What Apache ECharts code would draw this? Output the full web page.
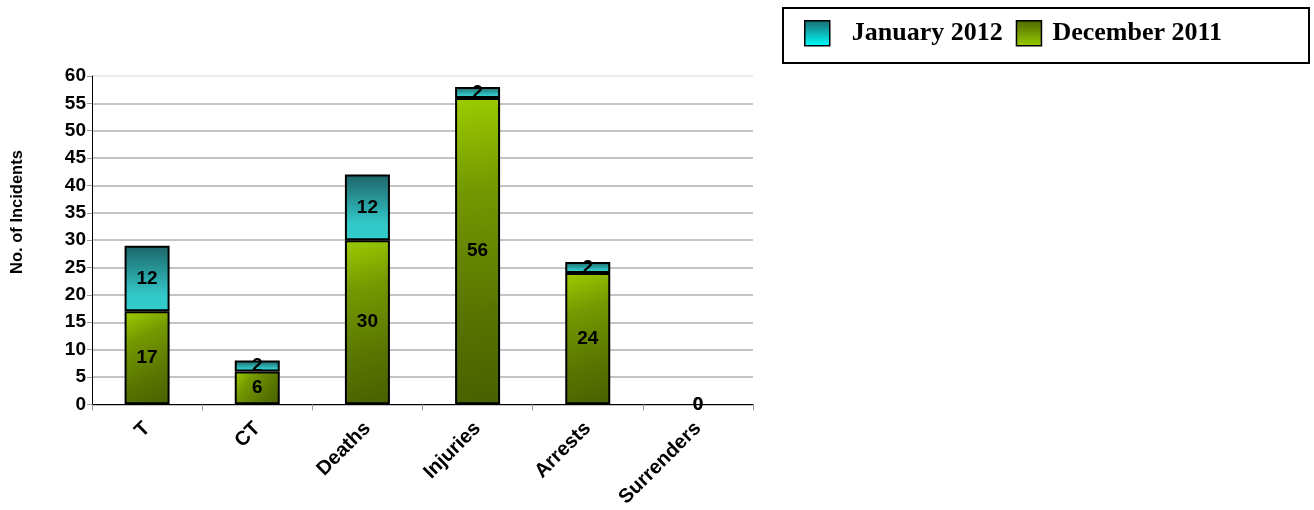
<!DOCTYPE html>
<html>
<head>
<meta charset="utf-8">
<script src="https://cdn.jsdelivr.net/npm/echarts@6/dist/echarts.min.js"></script>
<style>html,body{margin:0;padding:0;background:#fff;}#c{width:1314px;height:510px;}</style>
</head>
<body>
<div id="c"></div>
<script>
var categories = ['T', 'CT', 'Deaths', 'Injuries', 'Arrests', 'Surrenders'];
var december2011 = [17, 6, 30, 56, 24, 0];
var january2012 = [12, 2, 12, 2, 2, 0];
var yTicks = [0, 5, 10, 15, 20, 25, 30, 35, 40, 45, 50, 55, 60];
var yAxisTitle = 'No. of Incidents';

var G = echarts.graphic.LinearGradient;
var decFill = new G(0, 0, 1, 1, [{offset: 0, color: '#9ccc00'}, {offset: 0.3, color: '#749800'}, {offset: 0.7, color: '#587400'}, {offset: 1, color: '#486000'}]);
var janFill = new G(0, 0, 0, 1, [{offset: 0, color: '#1c6468'}, {offset: 0.75, color: '#33c8c8'}, {offset: 1, color: '#33cccc'}]);
var decIcon = new G(0, 0, 0, 1, [{offset: 0, color: '#4d6600'}, {offset: 1, color: '#99cc00'}]);
var janIcon = new G(0, 0, 0, 1, [{offset: 0, color: '#1a6a70'}, {offset: 1, color: '#00ffff'}]);

var labelStyle = {show: true, position: 'inside', color: '#000', fontFamily: 'Liberation Sans', fontWeight: 'bold', fontSize: 19};

function toItems(arr) {
  return arr.map(function (v) {
    return v === 0 ? {value: v, itemStyle: {borderWidth: 0}} : v;
  });
}

var gridColors = yTicks.map(function (t, i) { return i === yTicks.length - 1 ? '#ececec' : '#c4c4c4'; });

var chart = echarts.init(document.getElementById('c'));
chart.setOption({
  animation: false,
  backgroundColor: '#fff',
  grid: {left: 92, right: 561, top: 76, bottom: 105, containLabel: false},
  graphic: [
    {type: 'rect', shape: {x: 783, y: 8, width: 526, height: 55}, style: {fill: 'none', stroke: '#000', lineWidth: 2}},
    {type: 'text', x: 17, y: 212, rotation: Math.PI / 2,
      style: {text: yAxisTitle, align: 'center', verticalAlign: 'middle', fill: '#000', font: 'bold 16.5px "Liberation Sans"'}}
  ],
  legend: {
    left: 804, top: 20, padding: 0, itemWidth: 25, itemHeight: 25, itemGap: 13, icon: 'rect',
    textStyle: {fontFamily: 'Liberation Serif', fontWeight: 'bold', fontSize: 26, color: '#000'},
    data: [
      {name: 'January 2012', itemStyle: {color: janIcon, borderColor: '#000', borderWidth: 1.5}, textStyle: {padding: [0, 0, 0, 17]}},
      {name: 'December 2011', itemStyle: {color: decIcon, borderColor: '#000', borderWidth: 1.5}, textStyle: {padding: [0, 0, 0, 6]}}
    ]
  },
  xAxis: {
    type: 'category', data: categories,
    axisLine: {lineStyle: {color: '#000', width: 1}},
    axisTick: {show: true, length: 6, lineStyle: {color: '#999'}},
    axisLabel: {rotate: 45, color: '#000', fontFamily: 'Liberation Sans', fontWeight: 'bold', fontSize: 20, margin: 21}
  },
  yAxis: {
    type: 'value', min: 0, max: 60, interval: 5,
    axisLine: {show: true, lineStyle: {color: '#000', width: 1}},
    axisTick: {show: true, length: 5, lineStyle: {color: '#999'}},
    splitLine: {lineStyle: {color: gridColors, width: 2}},
    axisLabel: {color: '#000', fontFamily: 'Liberation Sans', fontWeight: 'bold', fontSize: 19, margin: 6,
      formatter: function (v) { return yTicks.indexOf(v) >= 0 ? String(v) : ''; }}
  },
  series: [
    {name: 'December 2011', type: 'bar', stack: 's', data: toItems(december2011), barWidth: 45,
      itemStyle: {color: decFill, borderColor: '#000', borderWidth: 2}, label: labelStyle, z: 3},
    {name: 'January 2012', type: 'bar', stack: 's', data: toItems(january2012), barWidth: 45,
      itemStyle: {color: janFill, borderColor: '#000', borderWidth: 2}, label: labelStyle, z: 2}
  ]
});
</script>
</body>
</html>
